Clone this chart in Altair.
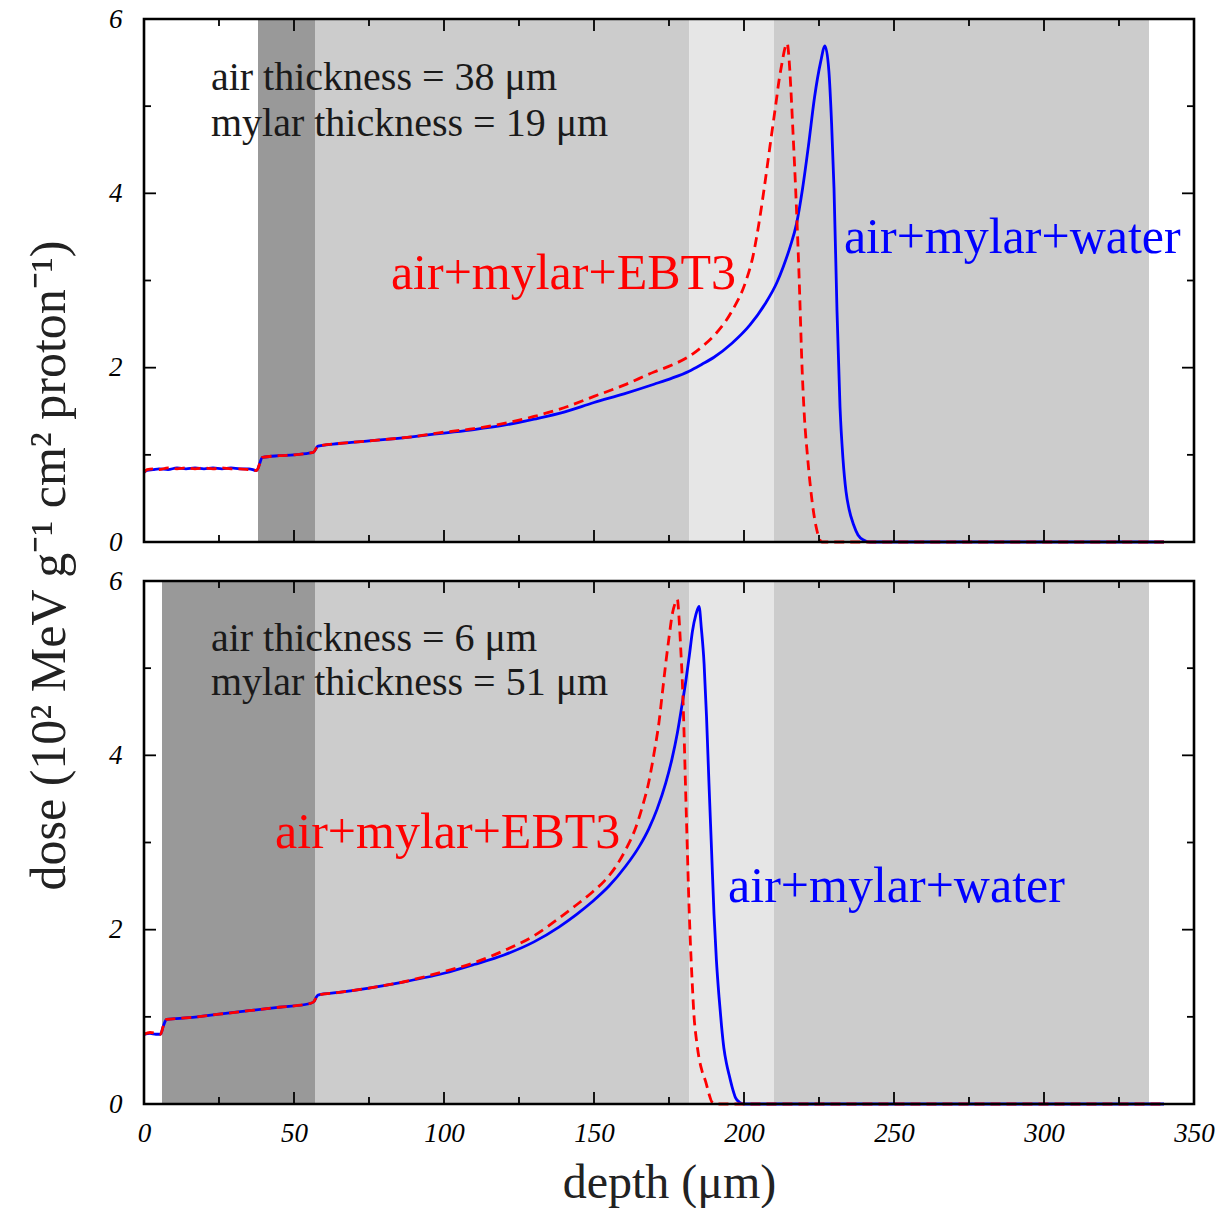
import altair as alt
import pandas as pd

# ---------------- data ----------------
# top panel: air 38 um, mylar 19 um
top_water_depth = [0, 1, 3, 5, 8, 11, 14, 17, 20, 23, 26, 29, 32, 35, 37.5,
                   39.5, 45, 50, 55, 56.5, 58, 65, 75, 90, 100, 110, 120, 130, 140, 150,
                   160, 170, 176, 181.7, 186, 190, 196, 202, 207, 211, 213, 215.5, 217.5, 219.5,
                   221.5, 223.5, 225.5, 227, 228.3, 229.2, 230, 231, 232, 233, 234, 235,
                   236.5, 238, 240, 242, 340]
top_water_dose = [0.80, 0.82, 0.83, 0.84, 0.83, 0.85, 0.84, 0.85, 0.84, 0.85, 0.84, 0.85, 0.84, 0.84, 0.82,
                  0.97, 0.99, 1.00, 1.02, 1.03, 1.10, 1.13, 1.16, 1.21, 1.25, 1.29, 1.34, 1.41, 1.49, 1.60,
                  1.70, 1.81, 1.88, 1.96, 2.04, 2.12, 2.28, 2.49, 2.73, 2.98, 3.15, 3.40, 3.65, 4.05,
                  4.55, 5.10, 5.50, 5.69, 5.40, 4.80, 4.06, 2.65, 1.55, 0.95, 0.58, 0.38,
                  0.20, 0.08, 0.02, 0.0, 0.0]

top_ebt3_depth = [0, 1, 3, 5, 8, 11, 14, 17, 20, 23, 26, 29, 32, 35, 37.5,
                  39.5, 45, 50, 55, 56.5, 58, 65, 75, 90, 100, 110, 120, 130, 140, 150,
                  160, 170, 176, 181.7, 186, 190.6, 196, 200.6, 203, 205, 206.7, 208.3, 209.5, 210.6,
                  211.7, 212.8, 213.6, 214.4, 215, 215.6, 216.4, 217.2, 218.3, 219.4, 220.2,
                  221.1, 222, 222.8, 224, 225, 226, 340]
top_ebt3_dose = [0.80, 0.83, 0.84, 0.83, 0.85, 0.84, 0.85, 0.84, 0.85, 0.84, 0.85, 0.84, 0.84, 0.83, 0.82,
                 0.97, 0.99, 1.00, 1.02, 1.03, 1.10, 1.13, 1.16, 1.21, 1.26, 1.30, 1.36, 1.44, 1.54, 1.67,
                 1.80, 1.95, 2.03, 2.13, 2.24, 2.39, 2.65, 2.99, 3.28, 3.66, 4.05, 4.45, 4.75, 5.02,
                 5.30, 5.52, 5.66, 5.72, 5.55, 5.21, 4.65, 4.06, 3.11, 1.96, 1.40,
                 1.01, 0.68, 0.44, 0.18, 0.05, 0.0, 0.0]

# bottom panel: air 6 um, mylar 51 um
bot_water_depth = [0, 2, 4, 5.5, 6.5, 7.5, 15, 25, 35, 45, 55, 56.5, 58, 65, 75, 85, 100, 110,
                   120, 130, 138.3, 144, 149.4, 155, 160.6, 165, 168.3, 171, 173.9, 176,
                   177.8, 179.3, 180.6, 181.8, 182.8, 184, 185, 185.8, 186.7, 187.5, 188.3,
                   189.2, 190, 190.8, 191.7, 192.5, 193.3, 194.2, 195, 196, 197.2, 198.5, 200, 340]
bot_water_dose = [0.80, 0.81, 0.80, 0.80, 0.90, 0.97, 0.99, 1.03, 1.07, 1.11, 1.15, 1.17, 1.25, 1.28,
                  1.33, 1.39, 1.50, 1.60, 1.71, 1.86, 2.03, 2.17, 2.32, 2.50, 2.73, 2.95, 3.16,
                  3.38, 3.68, 3.96, 4.26, 4.57, 4.85, 5.15, 5.42, 5.62, 5.71, 5.45, 5.05,
                  4.45, 3.70, 2.90, 2.18, 1.65, 1.22, 0.90, 0.64, 0.46, 0.34, 0.20, 0.07,
                  0.02, 0.0, 0.0]

bot_ebt3_depth = [0, 2, 4, 5.5, 6.5, 7.5, 15, 25, 35, 45, 55, 56.5, 58, 65, 75, 85, 100, 110,
                  120, 130, 138.3, 144, 149.4, 153.5, 157.2, 160.6, 163.9, 166.2, 168.3, 170,
                  171.7, 172.8, 173.9, 175, 176.1, 177, 177.8, 178.3, 178.9, 179.5, 180,
                  180.5, 181.1, 181.6, 182.2, 182.8, 183.3, 184.2, 185, 186, 187.2, 188.3,
                  189.4, 191, 340]
bot_ebt3_dose = [0.80, 0.82, 0.81, 0.80, 0.90, 0.97, 0.99, 1.03, 1.07, 1.11, 1.15, 1.17, 1.25, 1.28,
                 1.33, 1.39, 1.52, 1.62, 1.76, 1.93, 2.13, 2.28, 2.43, 2.56, 2.72, 2.92, 3.17,
                 3.42, 3.70, 4.02, 4.39, 4.72, 5.05, 5.35, 5.62, 5.74, 5.79, 5.60, 5.23,
                 4.80, 4.28, 3.65, 2.94, 2.35, 1.79, 1.35, 1.03, 0.72, 0.53, 0.38, 0.26,
                 0.12, 0.02, 0.0, 0.0]

# shaded material regions (start, end, kind)
top_region_start = [38, 57, 181.7, 210]
top_region_end = [57, 181.7, 210, 335]
bot_region_start = [6, 57, 181.7, 210]
bot_region_end = [57, 181.7, 210, 335]
region_kind = ["dark", "mid", "light", "mid"]

top_labels = ["air thickness = 38 \u03bcm", "mylar thickness = 19 \u03bcm"]
bot_labels = ["air thickness = 6 \u03bcm", "mylar thickness = 51 \u03bcm"]

x_major = [0, 50, 100, 150, 200, 250, 300, 350]
x_minor = [25, 75, 125, 175, 225, 275, 325]
y_major = [0, 2, 4, 6]
y_minor = [1, 3, 5]

# ---------------- style ----------------
W, H = 1050, 523
SERIF = "Liberation Serif"
xscale = alt.Scale(domain=[0, 350], nice=False, zero=False)
yscale = alt.Scale(domain=[0, 6], nice=False)


def panel(reg_start, reg_end, w_d, w_v, e_d, e_v, labels, lab_pos, red_pos, blue_pos, bottom):
    if bottom:
        xaxis = alt.Axis(values=x_major, ticks=False, domain=False, grid=False,
                         labelFont=SERIF, labelFontStyle="italic", labelFontSize=27,
                         labelPadding=16, labelColor="black", labelFlush=False,
                         title="depth (\u03bcm)", titleFont=SERIF, titleFontSize=48,
                         titleFontWeight="normal", titlePadding=13, titleColor="#222")
        yaxis = alt.Axis(values=y_major, ticks=False, domain=False, grid=False,
                         labelFont=SERIF, labelFontStyle="italic", labelFontSize=27,
                         labelPadding=22, labelColor="black", labelFlush=False,
                         title="dose (10\u00b2 MeV g\u207b\u00b9 cm\u00b2 proton\u207b\u00b9)",
                         titleFont=SERIF, titleFontSize=50, titleFontWeight="normal",
                         titleColor="#222", titleAngle=270, titleX=-95, titleY=-16,
                         titleAlign="center", titleBaseline="middle")
    else:
        xaxis = None
        yaxis = alt.Axis(values=y_major, ticks=False, domain=False, grid=False,
                         labelFont=SERIF, labelFontStyle="italic", labelFontSize=27,
                         labelPadding=22, labelColor="black", labelFlush=False, title=None)

    def X(f, **kw):
        return alt.X(f, type="quantitative", scale=xscale, axis=xaxis, **kw)

    def Y(f, **kw):
        return alt.Y(f, type="quantitative", scale=yscale, axis=yaxis, **kw)

    reg = pd.DataFrame({"s": reg_start, "e": reg_end, "k": region_kind})
    rects = alt.Chart(reg).mark_rect().encode(
        x=X("s"), x2="e",
        y=alt.Y(datum=0, type="quantitative", scale=yscale, axis=yaxis),
        y2=alt.Y2(datum=6),
        color=alt.Color("k:N", scale=alt.Scale(domain=["dark", "mid", "light"],
                                                range=["#999999", "#cccccc", "#e6e6e6"]),
                        legend=None),
    )

    wdf = pd.DataFrame({"d": w_d, "v": w_v})
    edf = pd.DataFrame({"d": e_d, "v": e_v})
    blue = alt.Chart(wdf).mark_line(color="#0000ff", strokeWidth=2.8,
                                    interpolate="monotone").encode(x=X("d"), y=Y("v"))
    red = alt.Chart(edf).mark_line(color="#ff0000", strokeWidth=2.8, strokeDash=[10, 6],
                                   interpolate="monotone").encode(x=X("d"), y=Y("v"))

    ldf = pd.DataFrame({"t": labels, "x": [lab_pos[0]] * 2, "y": lab_pos[1]})
    ltxt = alt.Chart(ldf).mark_text(font=SERIF, fontSize=40, align="left", baseline="middle",
                                    color="#1a1a1a").encode(x=X("x"), y=Y("y"), text="t:N")
    rdf = pd.DataFrame({"t": ["air+mylar+EBT3"], "x": [red_pos[0]], "y": [red_pos[1]]})
    rtxt = alt.Chart(rdf).mark_text(font=SERIF, fontSize=50, align="left", baseline="middle",
                                    color="#ff0000").encode(x=X("x"), y=Y("y"), text="t:N")
    bdf = pd.DataFrame({"t": ["air+mylar+water"], "x": [blue_pos[0]], "y": [blue_pos[1]]})
    btxt = alt.Chart(bdf).mark_text(font=SERIF, fontSize=50, align="left", baseline="middle",
                                    color="#0000ff").encode(x=X("x"), y=Y("y"), text="t:N")

    layers = [rects, blue, red, ltxt, rtxt, btxt]
    for vals, ln in ((x_major, 12), (x_minor, 7)):
        tdf = pd.DataFrame({"t": vals})
        layers.append(alt.Chart(tdf).mark_rule(color="black", strokeWidth=1.8).encode(
            x=X("t"), y=alt.value(0), y2=alt.value(ln)))
        layers.append(alt.Chart(tdf).mark_rule(color="black", strokeWidth=1.8).encode(
            x=X("t"), y=alt.value(H), y2=alt.value(H - ln)))
    for vals, ln in ((y_major, 12), (y_minor, 7)):
        tdf = pd.DataFrame({"t": vals})
        layers.append(alt.Chart(tdf).mark_rule(color="black", strokeWidth=1.8).encode(
            y=Y("t"), x=alt.value(0), x2=alt.value(ln)))
        layers.append(alt.Chart(tdf).mark_rule(color="black", strokeWidth=1.8).encode(
            y=Y("t"), x=alt.value(W), x2=alt.value(W - ln)))

    frame = alt.Chart(pd.DataFrame({"f": [0]})).mark_rect(
        fill="transparent", stroke="black", strokeWidth=2.6).encode(
        x=alt.value(0), x2=alt.value(W), y=alt.value(0), y2=alt.value(H))
    layers.append(frame)

    return alt.layer(*layers).properties(width=W, height=H)


top = panel(top_region_start, top_region_end, top_water_depth, top_water_dose,
            top_ebt3_depth, top_ebt3_dose, top_labels, (22.3, [5.32, 4.80]),
            (82.3, 3.08), (233.3, 3.49), False)
bot = panel(bot_region_start, bot_region_end, bot_water_depth, bot_water_dose,
            bot_ebt3_depth, bot_ebt3_dose, bot_labels, (22.3, [5.34, 4.83]),
            (43.7, 3.11), (194.7, 2.49), True)

chart = alt.vconcat(top, bot, spacing=39, bounds="flush").properties(
    padding={"left": 15, "top": -4, "right": 0, "bottom": 0}
).configure_view(strokeWidth=0).configure(background="white")

chart.save("out.html", embed_options={"renderer": "svg", "actions": False})
